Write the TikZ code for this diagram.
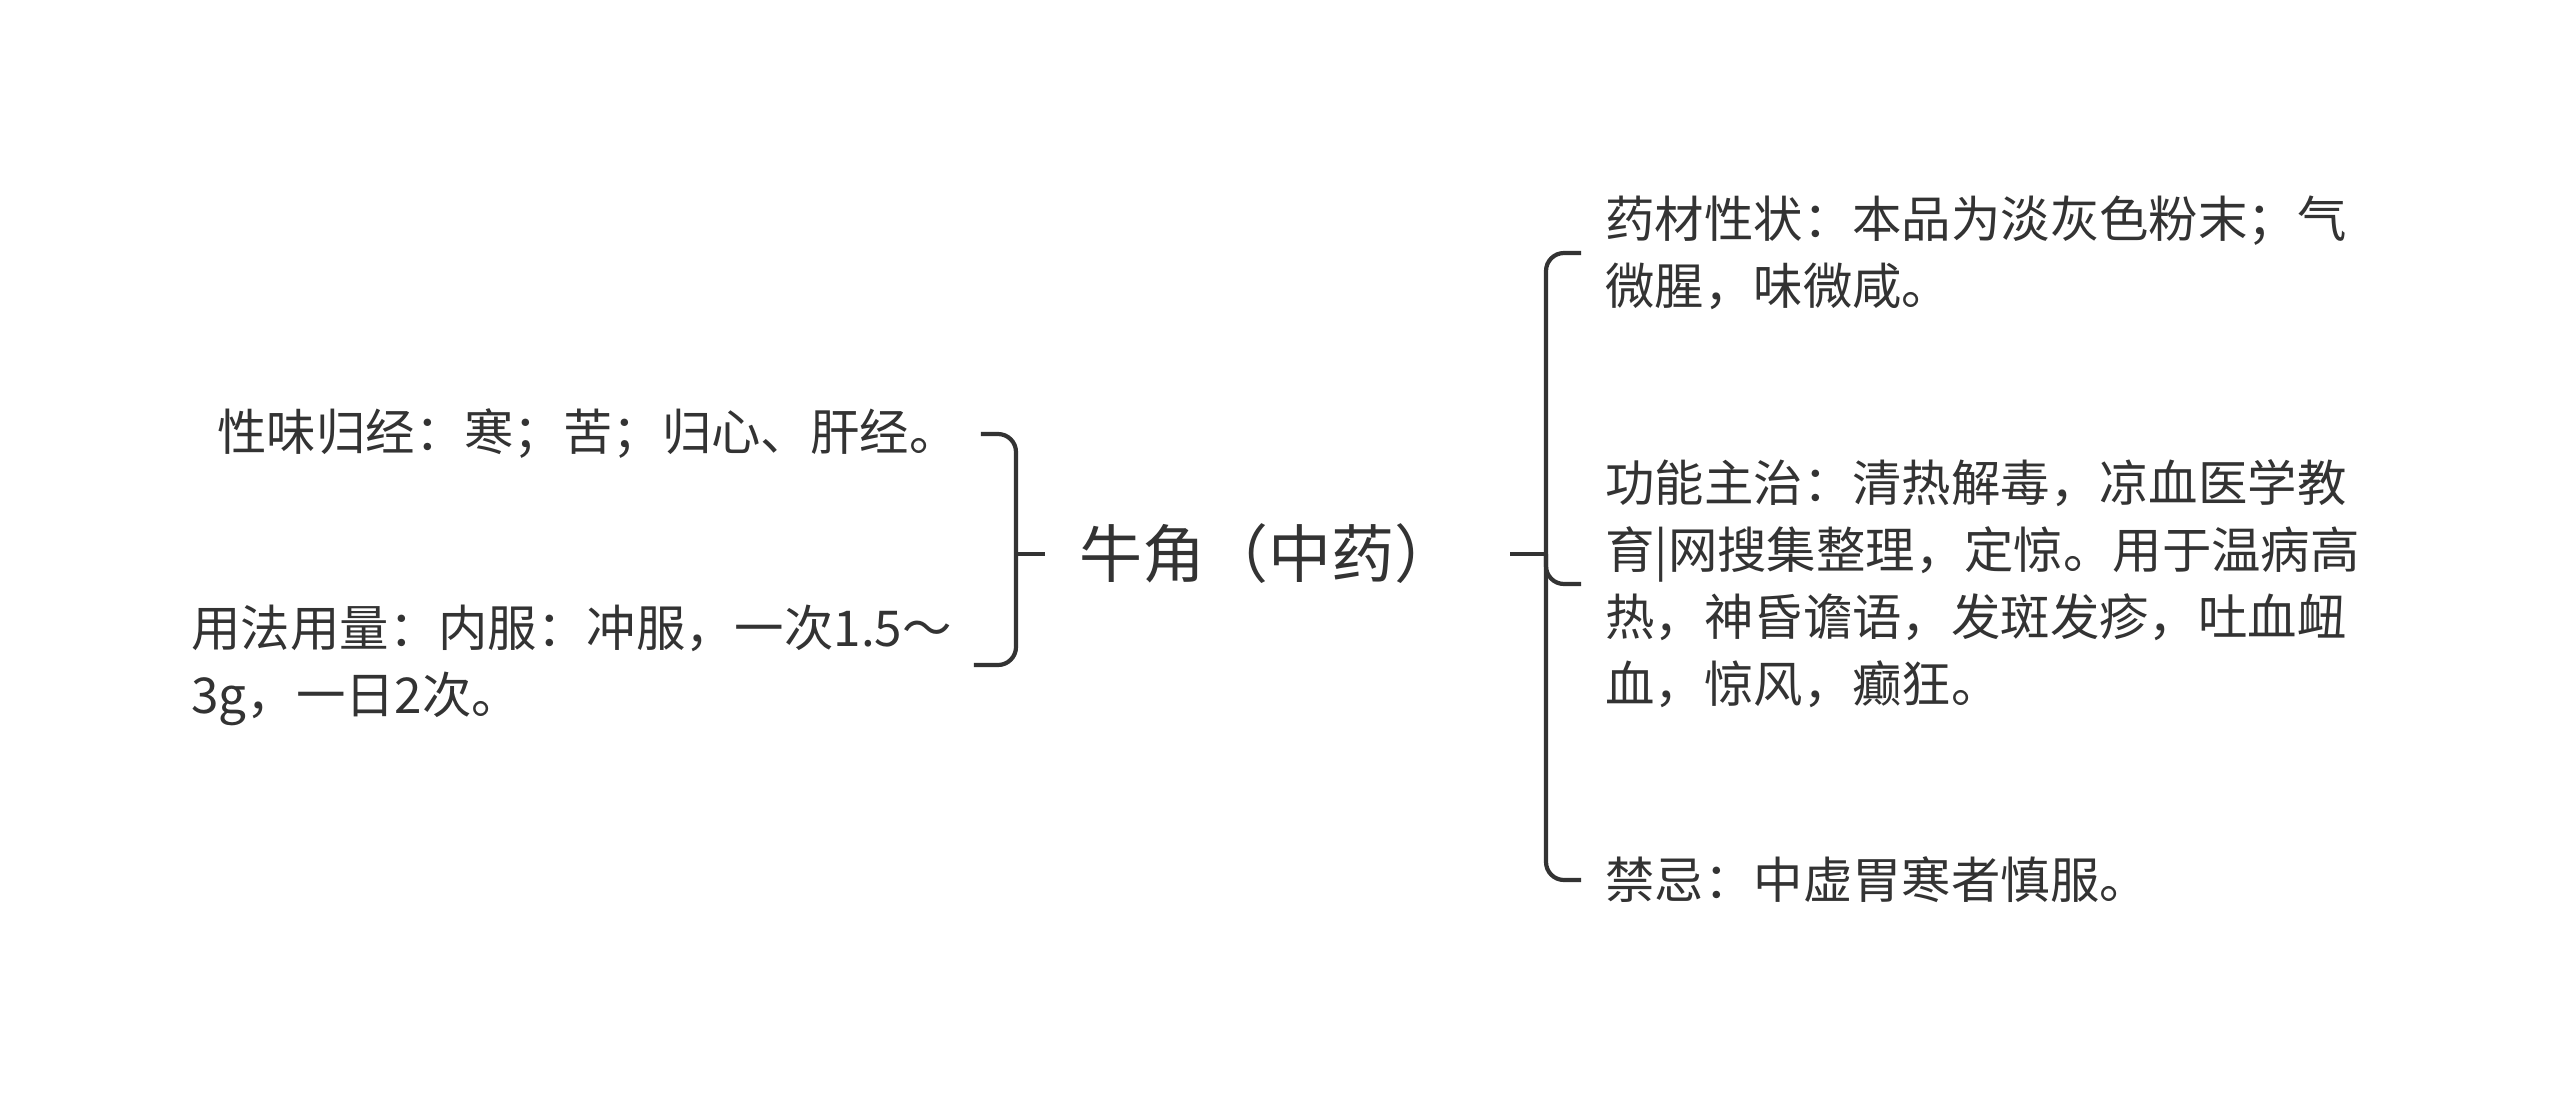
\documentclass[tikz,border=0pt]{standalone}
\usepackage{fontspec}
\setmainfont{Noto Sans CJK SC}
\definecolor{ink}{HTML}{333333}
\begin{document}
\begin{tikzpicture}[x=0.5pt,y=-0.5pt,
  txt/.style={font=\fontsize{24.7pt}{33.5pt}\selectfont, text=ink, inner sep=0pt, align=left, anchor=west},
  brk/.style={draw=ink, line width=2.1pt, rounded corners=9pt}]
\fill[white] (0,0) rectangle (2560,1099);
\useasboundingbox (0,0) rectangle (2560,1099);
\node[font=\fontsize{31.5pt}{36pt}\selectfont, text=ink, inner sep=0pt] (root) at (1268,554) {牛角（中药）};
\node[txt] (l1) at (217,434) {性味归经：寒；苦；归心、肝经。};
\node[txt] (l2) at (191,665) {用法用量：内服：冲服，一次1.5～\\3g，一日2次。};
\coordinate (ls) at (1016,554);
\coordinate (rs) at (1546,554);
\node[txt] (r1) at (1605,253) {药材性状：本品为淡灰色粉末；气\\微腥，味微咸。};
\node[txt] (r2) at (1605,584) {功能主治：清热解毒，凉血医学教\\育|网搜集整理，定惊。用于温病高\\热，神昏谵语，发斑发疹，吐血衄\\血，惊风，癫狂。};
\node[txt] (r3) at (1605,880) {禁忌：中虚胃寒者慎服。};
\draw[brk] ([xshift=11pt]l1.east) -| (ls) |- ([xshift=11pt]l2.east);
\draw[brk] (ls) -- ([xshift=-17pt]root.west);
\draw[brk] ([xshift=26.5pt]root.east) -- (rs);
\draw[brk] ([xshift=-12pt]r1.west) -| (rs) |- ([xshift=-12pt]r3.west);
\draw[brk] (rs) |- ([xshift=-12pt]r2.west);
\end{tikzpicture}
\end{document}
